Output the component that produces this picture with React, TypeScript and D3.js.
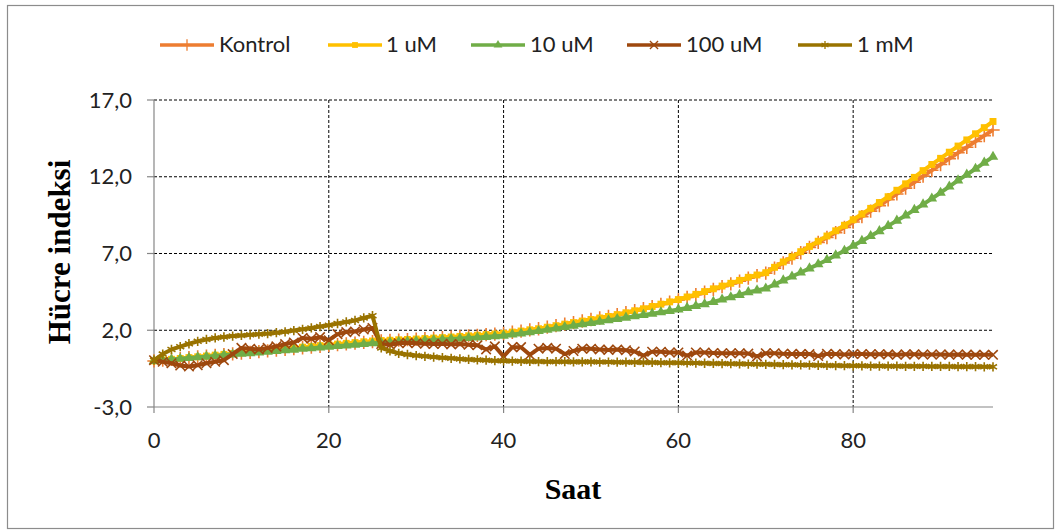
import React from "react";
import * as d3 from "d3";

// sampling hours (one reading per hour, 0..96)
const hours = d3.range(0, 97);

const kontrol = [
  0.0, 0.06, 0.1, 0.15, 0.21, 0.26, 0.31, 0.36, 0.41, 0.46, 0.51, 0.56, 0.61, 0.66, 0.71, 0.76, 0.81, 0.86, 0.91, 0.96,
  1.01, 1.06, 1.11, 1.16, 1.21, 1.26, 1.3, 1.33, 1.36, 1.39, 1.42, 1.45, 1.48, 1.51, 1.55, 1.59, 1.63, 1.67, 1.71, 1.75,
  1.79, 1.87, 1.94, 2.02, 2.1, 2.2, 2.3, 2.4, 2.5, 2.6, 2.7, 2.8, 2.9, 3.02, 3.14, 3.27, 3.4, 3.54, 3.68, 3.83,
  3.98, 4.14, 4.31, 4.48, 4.66, 4.84, 5.02, 5.2, 5.4, 5.56, 5.72, 6.05, 6.38, 6.7, 7.05, 7.4, 7.72, 8.04, 8.36, 8.7,
  9.05, 9.4, 9.76, 10.12, 10.5, 10.88, 11.26, 11.64, 12.04, 12.42, 12.8, 13.18, 13.56, 13.92, 14.3, 14.68, 15.05,
];

const uM1 = [
  0.0, 0.06, 0.11, 0.16, 0.22, 0.27, 0.32, 0.38, 0.43, 0.48, 0.53, 0.58, 0.64, 0.69, 0.74, 0.79, 0.84, 0.9, 0.95, 1.0,
  1.05, 1.1, 1.15, 1.2, 1.25, 1.3, 1.33, 1.35, 1.38, 1.4, 1.43, 1.46, 1.49, 1.52, 1.56, 1.6, 1.64, 1.68, 1.72, 1.76,
  1.8, 1.88, 1.95, 2.03, 2.1, 2.2, 2.3, 2.4, 2.5, 2.6, 2.7, 2.8, 2.9, 3.02, 3.14, 3.27, 3.4, 3.55, 3.7, 3.85,
  4.0, 4.17, 4.34, 4.52, 4.7, 4.88, 5.06, 5.25, 5.45, 5.6, 5.75, 6.1, 6.45, 6.78, 7.12, 7.46, 7.8, 8.14, 8.48, 8.84,
  9.2, 9.57, 9.94, 10.32, 10.7, 11.12, 11.54, 11.96, 12.4, 12.8, 13.2, 13.6, 14.0, 14.4, 14.8, 15.2, 15.6,
];

const uM10 = [
  0.0, 0.05, 0.09, 0.14, 0.19, 0.24, 0.28, 0.33, 0.38, 0.42, 0.47, 0.51, 0.56, 0.61, 0.65, 0.7, 0.74, 0.79, 0.83, 0.88,
  0.92, 0.97, 1.01, 1.06, 1.1, 1.15, 1.18, 1.21, 1.24, 1.27, 1.3, 1.33, 1.36, 1.39, 1.43, 1.46, 1.5, 1.53, 1.57, 1.61,
  1.65, 1.72, 1.79, 1.87, 1.95, 2.03, 2.12, 2.21, 2.3, 2.39, 2.47, 2.56, 2.65, 2.73, 2.82, 2.91, 3.0, 3.08, 3.17, 3.26,
  3.35, 3.46, 3.58, 3.7, 3.85, 4.0, 4.15, 4.3, 4.48, 4.6, 4.72, 4.98, 5.25, 5.5, 5.76, 6.03, 6.3, 6.58, 6.88, 7.18,
  7.5, 7.82, 8.14, 8.46, 8.8, 9.14, 9.48, 9.84, 10.2, 10.58, 10.96, 11.36, 11.76, 12.14, 12.52, 12.92, 13.3,
];

const uM100 = [
  0.05, -0.05, -0.15, -0.3, -0.36, -0.28, -0.15, -0.05, 0.05, 0.45, 0.85, 0.8, 0.75, 0.85, 0.95, 1.1, 1.2, 1.5, 1.45, 1.55,
  1.35, 1.75, 1.88, 1.92, 2.05, 2.15, 1.1, 1.05, 1.15, 1.18, 1.15, 1.12, 1.1, 1.12, 1.08, 1.1, 1.05, 1.02, 0.75, 0.95,
  0.3, 0.9, 0.9, 0.4, 0.8, 0.85, 0.8, 0.45, 0.65, 0.8, 0.8, 0.75, 0.72, 0.75, 0.7, 0.62, 0.35, 0.6, 0.6, 0.55,
  0.55, 0.35, 0.55, 0.55, 0.52, 0.5, 0.5, 0.5, 0.48, 0.3, 0.5, 0.5, 0.47, 0.46, 0.45, 0.45, 0.32, 0.46, 0.45, 0.42,
  0.45, 0.45, 0.44, 0.44, 0.43, 0.4, 0.43, 0.43, 0.42, 0.42, 0.42, 0.41, 0.42, 0.41, 0.4, 0.4, 0.4,
];

const mM1 = [
  0.05, 0.45, 0.75, 0.93, 1.12, 1.28, 1.4, 1.5, 1.56, 1.62, 1.66, 1.7, 1.74, 1.78, 1.84, 1.9, 1.98, 2.06, 2.15, 2.24,
  2.33, 2.44, 2.54, 2.64, 2.8, 2.95, 0.85, 0.65, 0.5, 0.42, 0.35, 0.3, 0.25, 0.21, 0.17, 0.13, 0.1, 0.07, 0.05, 0.02,
  0.0, -0.01, -0.02, -0.03, -0.04, -0.05, -0.05, -0.05, -0.06, -0.06, -0.06, -0.07, -0.07, -0.08, -0.08, -0.09, -0.1, -0.1, -0.11, -0.12,
  -0.12, -0.13, -0.14, -0.15, -0.16, -0.17, -0.18, -0.19, -0.2, -0.21, -0.22, -0.23, -0.24, -0.25, -0.26, -0.27, -0.28, -0.29, -0.3, -0.31,
  -0.32, -0.32, -0.33, -0.33, -0.34, -0.34, -0.35, -0.35, -0.35, -0.36, -0.36, -0.36, -0.37, -0.37, -0.37, -0.38, -0.38,
];

const seriesNames = ["Kontrol", "1 uM", "10 uM", "100 uM", "1 mM"];
const seriesValues = [kontrol, uM1, uM10, uM100, mM1];
const seriesColors = ["#ED7D31", "#FFC000", "#70AD47", "#9E480E", "#997300"];
const seriesSymbols = [d3.symbolPlus, d3.symbolSquare, d3.symbolTriangle, d3.symbolTimes, d3.symbolAsterisk];
const strokeSymbol = [true, false, false, true, true];

const yTicks = [-3, 2, 7, 12, 17];
const xTicks = [0, 20, 40, 60, 80];

const W = 1059;
const H = 532;
const margin = { top: 100, right: 66, bottom: 125, left: 154 };

export default function App() {
  const innerW = W - margin.left - margin.right;
  const innerH = H - margin.top - margin.bottom;

  const x = d3.scaleLinear().domain([0, 96]).range([0, innerW]);
  const y = d3.scaleLinear().domain([-3, 17]).range([innerH, 0]);

  const line = d3
    .line<number>()
    .x((_, i) => x(hours[i]))
    .y((d) => y(d));

  const fmt = (v: number) => v.toFixed(1).replace(".", ",");
  const labelFont = "Lato, 'Open Sans', sans-serif";
  const serif = "'Liberation Serif', 'Times New Roman', serif";

  // legend layout: [line start x, text x]
  const legendPos = [
    [160, 219],
    [328, 386],
    [471, 530],
    [627, 686],
    [798, 857],
  ];

  return (
    <div style={{ position: "absolute", left: 0, top: 0 }}>
      <svg width={W} height={H} style={{ display: "block", background: "white" }}>
        <rect x={7.5} y={5.5} width={1046} height={523} fill="white" stroke="#8c8c8c" strokeWidth={1.2} />

        {/* legend */}
        {seriesNames.map((name, i) => {
          const [lx, tx] = legendPos[i];
          const sym = d3.symbol(seriesSymbols[i], strokeSymbol[i] ? 45 : 34)();
          return (
            <g key={name}>
              <line x1={lx} x2={lx + 54} y1={45} y2={45} stroke={seriesColors[i]} strokeWidth={3.5} />
              <path
                d={sym ?? ""}
                transform={`translate(${lx + 27},45)`}
                fill={strokeSymbol[i] ? "none" : seriesColors[i]}
                stroke={seriesColors[i]}
                strokeWidth={strokeSymbol[i] ? 1.3 : 0}
              />
              <text x={tx} y={52} fontFamily={labelFont} fontSize={22} fill="#222">
                {name}
              </text>
            </g>
          );
        })}

        <g transform={`translate(${margin.left},${margin.top})`}>
          {/* gridlines */}
          {yTicks.slice(1).map((t) => (
            <line key={`gy${t}`} x1={0} x2={innerW} y1={y(t)} y2={y(t)} stroke="#000" strokeWidth={1} strokeDasharray="3,2" />
          ))}
          {xTicks.slice(1).map((t) => (
            <line key={`gx${t}`} x1={x(t)} x2={x(t)} y1={0} y2={innerH} stroke="#000" strokeWidth={1} strokeDasharray="3,2" />
          ))}

          {/* axes */}
          <line x1={0} x2={innerW} y1={innerH} y2={innerH} stroke="#868686" strokeWidth={1.2} />
          <line x1={0} x2={0} y1={0} y2={innerH} stroke="#868686" strokeWidth={1.2} />
          {yTicks.map((t) => (
            <g key={`ty${t}`}>
              <line x1={-7} x2={0} y1={y(t)} y2={y(t)} stroke="#868686" strokeWidth={1.2} />
              <text x={-22} y={y(t)} dy="0.35em" textAnchor="end" fontFamily={labelFont} fontSize={22} fill="#222">
                {fmt(t)}
              </text>
            </g>
          ))}
          {xTicks.map((t) => (
            <g key={`tx${t}`}>
              <line x1={x(t)} x2={x(t)} y1={innerH} y2={innerH + 6} stroke="#868686" strokeWidth={1.2} />
              <text x={x(t)} y={innerH + 41} textAnchor="middle" fontFamily={labelFont} fontSize={22} fill="#222">
                {t}
              </text>
            </g>
          ))}

          {/* series */}
          {seriesValues.map((vals, si) => {
            const sym = d3.symbol(seriesSymbols[si], strokeSymbol[si] ? 60 : 48)() ?? "";
            return (
              <g key={seriesNames[si]}>
                <path d={line(vals) ?? ""} fill="none" stroke={seriesColors[si]} strokeWidth={4} strokeLinejoin="round" />
                {vals.map((v, i) => (
                  <path
                    key={i}
                    d={sym}
                    transform={`translate(${x(hours[i])},${y(v)})`}
                    fill={strokeSymbol[si] ? "none" : seriesColors[si]}
                    stroke={seriesColors[si]}
                    strokeWidth={strokeSymbol[si] ? 1.6 : 0}
                  />
                ))}
              </g>
            );
          })}
        </g>

        {/* axis titles */}
        <text x={573} y={499} textAnchor="middle" fontFamily={serif} fontWeight="bold" fontSize={30} fill="#000">
          Saat
        </text>
        <text
          transform="translate(70,252) rotate(-90)"
          textAnchor="middle"
          fontFamily={serif}
          fontWeight="bold"
          fontSize={31}
          fill="#000"
        >
          Hücre indeksi
        </text>
      </svg>
    </div>
  );
}
